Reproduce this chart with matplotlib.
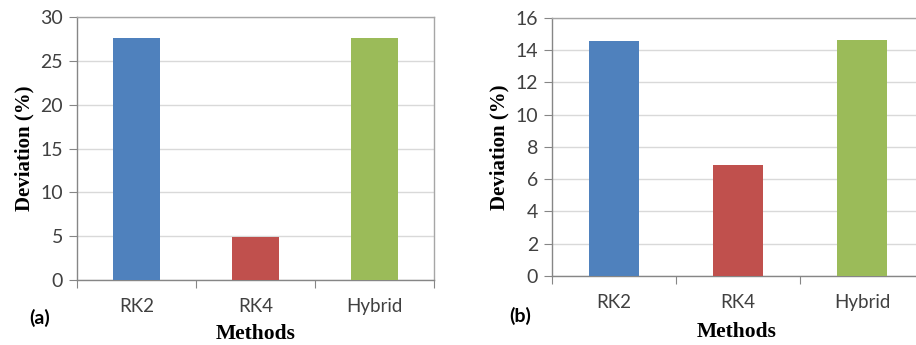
import matplotlib
matplotlib.use('Agg')
import matplotlib.pyplot as plt

# Data
methods = ['RK2', 'RK4', 'Hybrid']
deviation_a = [27.6, 4.9, 27.6]
deviation_b = [14.55, 6.88, 14.62]
bar_colors = ['#4F81BD', '#C0504D', '#9BBB59']

TICK_FONT = ['Lato', 'DejaVu Sans']
LABEL_FONT = ['Liberation Serif', 'DejaVu Serif']


def draw_panel(ax, values, ymax, ystep):
    x = range(len(values))
    ax.bar(x, values, width=0.4, color=bar_colors, zorder=3)
    ax.set_xlim(-0.5, len(values) - 0.5)
    ax.set_ylim(0, ymax)
    ax.set_yticks(range(0, ymax + 1, ystep))
    ax.yaxis.grid(True, color='#D9D9D9', linewidth=1, zorder=0)

    # ticks at category boundaries, labels at centres
    ax.set_xticks([i - 0.5 for i in range(len(values) + 1)])
    ax.set_xticklabels([])
    ax.set_xticks(list(x), minor=True)
    ax.set_xticklabels(methods, minor=True, fontsize=13.5, color='#404040', family=TICK_FONT)
    ax.tick_params(axis='x', which='major', length=6, color='#868686', direction='out')
    ax.tick_params(axis='x', which='minor', length=0, pad=13)
    ax.tick_params(axis='y', length=6, color='#868686', labelsize=14, labelcolor='#404040', pad=4)
    for lbl in ax.get_yticklabels():
        lbl.set_family(TICK_FONT)

    for side in ['top', 'right']:
        ax.spines[side].set_color('#A6A6A6')
    for side in ['left', 'bottom']:
        ax.spines[side].set_color('#868686')
    for sp in ax.spines.values():
        sp.set_linewidth(1)

    ax.set_ylabel('Deviation (%)', fontsize=15, fontweight='bold', family=LABEL_FONT, labelpad=4)


fig = plt.figure(figsize=(9.16, 3.45), dpi=100)

ax_a = fig.add_axes([0.0841, 0.1884, 0.3897, 0.7623])
draw_panel(ax_a, deviation_a, 30, 5)

ax_b = fig.add_axes([0.6026, 0.2, 0.4061, 0.748])
draw_panel(ax_b, deviation_b, 16, 2)

fig.text(40 / 916, 1 - 318 / 345, '(a)', fontsize=14, fontweight='bold', family=TICK_FONT, ha='center', va='center')
fig.text(256 / 916, 1 - 334 / 345, 'Methods', fontsize=15.5, fontweight='bold', family=LABEL_FONT, ha='center', va='center')
fig.text(520 / 916, 1 - 316 / 345, '(b)', fontsize=14, fontweight='bold', family=TICK_FONT, ha='center', va='center')
fig.text(737 / 916, 1 - 332 / 345, 'Methods', fontsize=15.5, fontweight='bold', family=LABEL_FONT, ha='center', va='center')

fig.savefig('out.png', dpi=100)
